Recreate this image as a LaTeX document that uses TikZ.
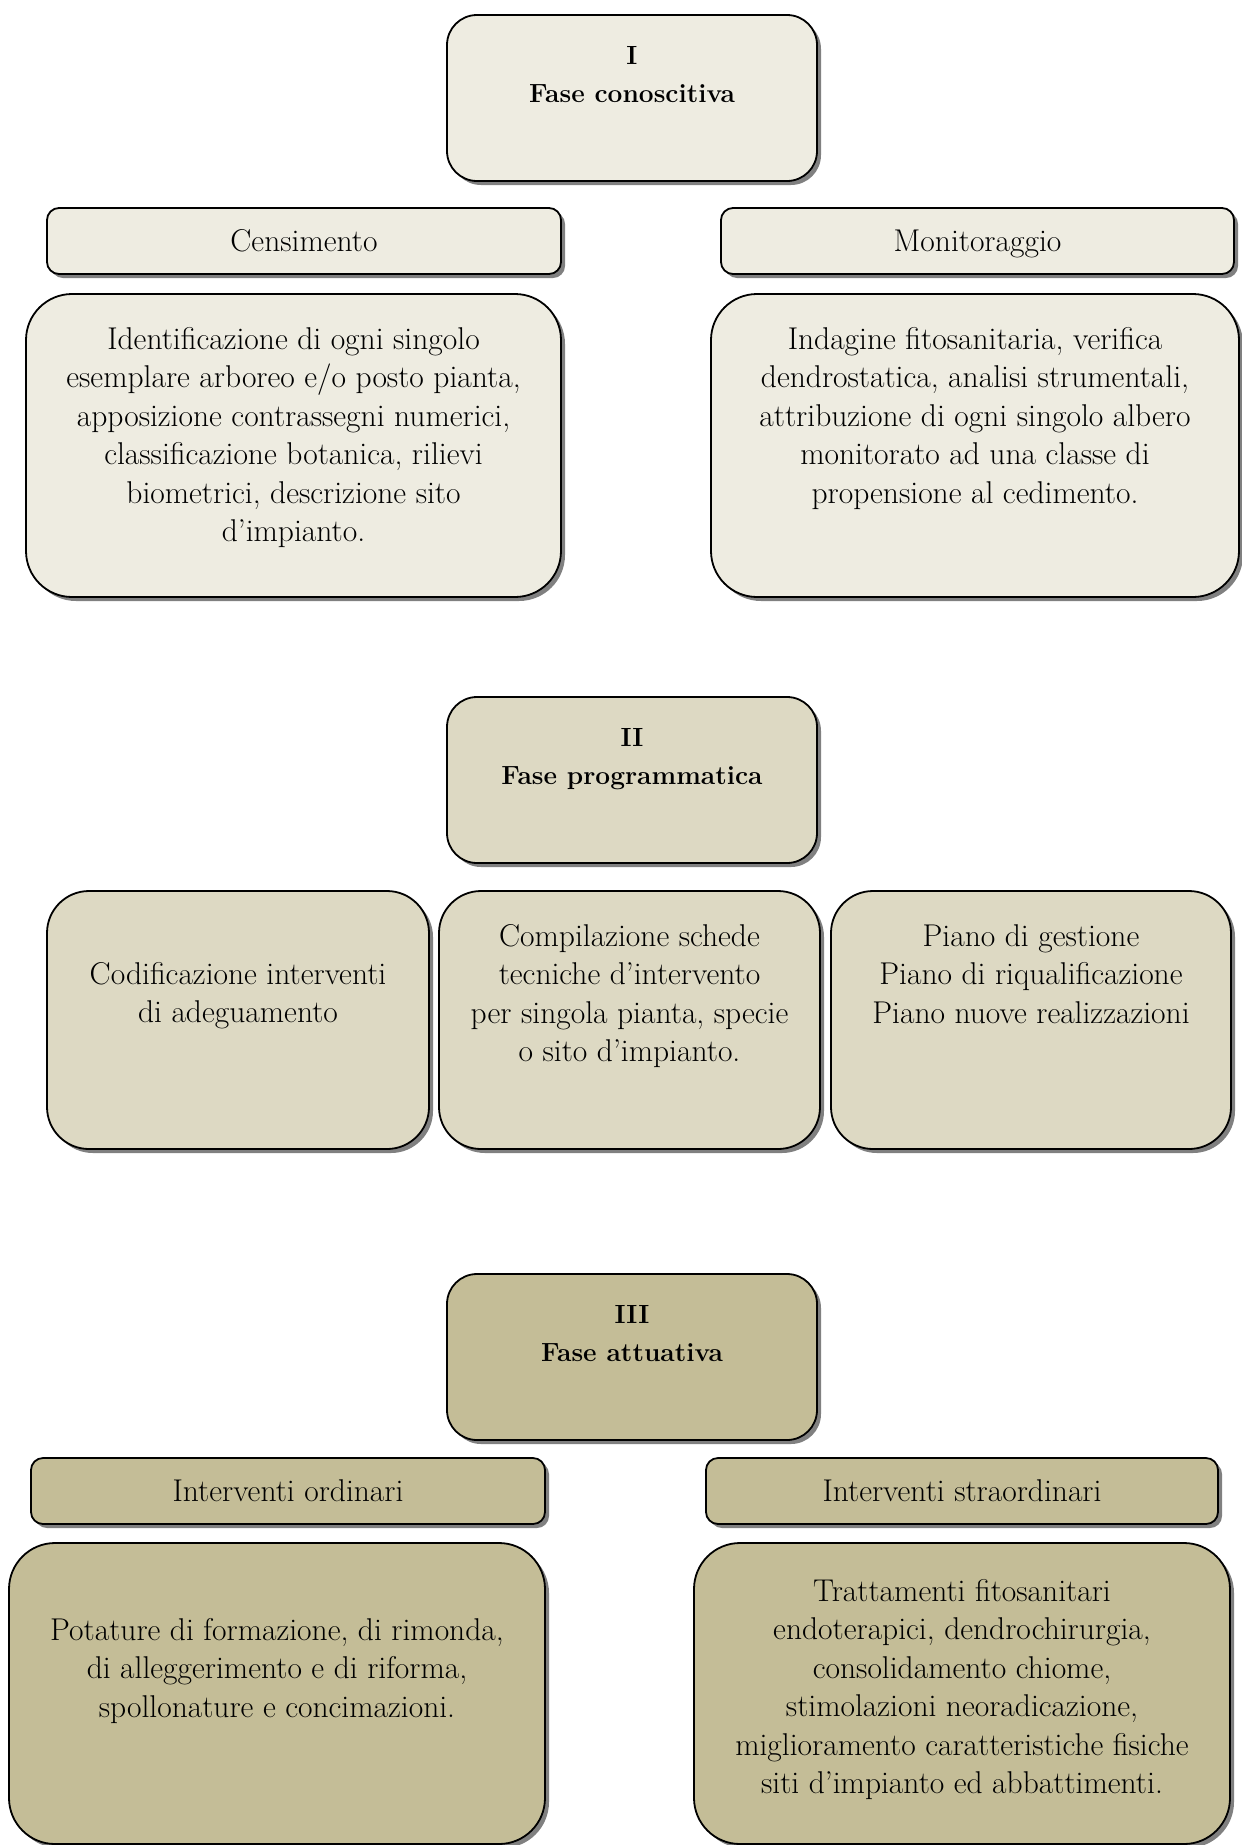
\documentclass[tikz,border=0pt]{standalone}
\usepackage{fontspec}
\usetikzlibrary{shadows}
\definecolor{cone}{HTML}{EEECE1}
\definecolor{ctwo}{HTML}{DDD9C3}
\definecolor{cthree}{HTML}{C4BD97}
\tikzset{
  boxbase/.style={draw=black, line width=1.8pt, rectangle, anchor=north west,
    inner sep=0pt, outer sep=0pt,
    drop shadow={shadow xshift=4pt, shadow yshift=-4pt, fill=black!50, opacity=1}},
  headbox/.style={boxbase, rounded corners=12pt, minimum height=66pt,
    font=\fontsize{31.5}{38.5}\selectfont, text height=21pt, text depth=0pt},
  bigbox/.style={boxbase, rounded corners=46pt},
  titlebox/.style={boxbase, rounded corners=30pt, minimum width=370pt, minimum height=166pt},
  midbox/.style={boxbase, rounded corners=42pt, minimum height=258pt},
  bodytxt/.style={anchor=north, inner sep=0pt, align=center, font=\fontsize{31.5}{38.5}\selectfont},
  titletxt/.style={anchor=north, inner sep=0pt, align=center, font=\fontsize{26.3}{38.5}\selectfont\bfseries},
}
\begin{document}
\begin{tikzpicture}[x=1pt, y=-1pt]
\useasboundingbox (0,0) rectangle (1242,1845);

% ---------- Phase I ----------
\node[titlebox, fill=cone] (bI) at (447,15) {};
\node[titletxt] (tI) at (632,46) {I\\Fase conoscitiva};

\node[headbox, fill=cone, minimum width=514pt] (hC) at (47,208) {Censimento};
\node[headbox, fill=cone, minimum width=513pt] (hM) at (721,208) {Monitoraggio};

\node[bigbox, fill=cone, minimum width=535pt, minimum height=303pt] (bC) at (26,294) {};
\node[bodytxt] (tC) at (293.5,327) {Identificazione di ogni singolo\\esemplare arboreo e/o posto pianta,\\apposizione contrassegni numerici,\\classificazione botanica, rilievi\\biometrici, descrizione sito\\d’impianto.};

\node[bigbox, fill=cone, minimum width=528pt, minimum height=303pt] (bM) at (711,294) {};
\node[bodytxt] (tM) at (975,327) {Indagine fitosanitaria, verifica\\dendrostatica, analisi strumentali,\\attribuzione di ogni singolo albero\\monitorato ad una classe di\\propensione al cedimento.};

% ---------- Phase II ----------
\node[titlebox, fill=ctwo] (bII) at (447,697) {};
\node[titletxt] (tII) at (632,728) {II\\Fase programmatica};

\node[midbox, fill=ctwo, minimum width=382pt] (p1) at (47,891) {};
\node[bodytxt] (tp1) at (238,962) {Codificazione interventi\\di adeguamento};

\node[midbox, fill=ctwo, minimum width=381pt] (p2) at (439,891) {};
\node[bodytxt] (tp2) at (629.5,924) {Compilazione schede\\tecniche d’intervento\\per singola pianta, specie\\o sito d’impianto.};

\node[midbox, fill=ctwo, minimum width=400pt] (p3) at (831,891) {};
\node[bodytxt] (tp3) at (1031,924) {Piano di gestione\\Piano di riqualificazione\\Piano nuove realizzazioni};

% ---------- Phase III ----------
\node[titlebox, fill=cthree] (bIII) at (447,1274) {};
\node[titletxt] (tIII) at (632,1305) {III\\Fase attuativa};

\node[headbox, fill=cthree, minimum width=514pt] (hO) at (31,1458) {Interventi ordinari};
\node[headbox, fill=cthree, minimum width=512pt] (hS) at (706,1458) {Interventi straordinari};

\node[bigbox, fill=cthree, minimum width=536pt, minimum height=301pt] (bO) at (9,1543) {};
\node[bodytxt] (tO) at (277,1618) {Potature di formazione, di rimonda,\\di alleggerimento e di riforma,\\spollonature e concimazioni.};

\node[bigbox, fill=cthree, minimum width=536pt, minimum height=301pt] (bS) at (694,1543) {};
\node[bodytxt] (tS) at (962,1579) {Trattamenti fitosanitari\\endoterapici, dendrochirurgia,\\consolidamento chiome,\\stimolazioni neoradicazione,\\miglioramento caratteristiche fisiche\\siti d’impianto ed abbattimenti.};
\end{tikzpicture}
\end{document}
